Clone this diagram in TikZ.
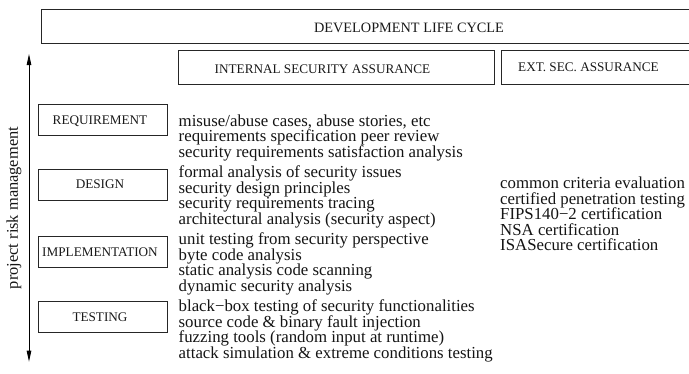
\documentclass[tikz,border=0pt]{standalone}
\usepackage{fontspec}
\setmainfont{Liberation Serif}
\usetikzlibrary{arrows.meta}
\tikzset{
  frame/.style={draw=black!85, line width=0.9pt},
  hdr/.style={inner sep=0pt, font=\fontsize{13.2}{14}\selectfont, text=black!90},
  phase/.style={inner sep=0pt, anchor=base, font=\fontsize{13.2}{14}\selectfont, text=black!90},
  item/.style={inner sep=0pt, anchor=base west, font=\fontsize{16.8}{16}\selectfont, text=black!92},
  biarrow/.style={line width=0.9pt, {Triangle[length=11pt,width=4.5pt]}-{Triangle[length=11pt,width=4.5pt]}}
}
\begin{document}
\begin{tikzpicture}[x=1pt,y=-1pt]
\useasboundingbox (0,0) rectangle (689,373);
\begin{scope}
\clip (0,0) rectangle (689,373);
% top frames
\draw[frame] (41.7,9.3) rectangle (705,43.3);
\node[hdr, anchor=base, font=\fontsize{14.3}{15}\selectfont] (dlc) at (409,32.7) {DEVELOPMENT LIFE CYCLE};
\draw[frame] (178,50) rectangle (494,84);
\node[hdr, anchor=base] (isa) at (322.5,73.4) {INTERNAL SECURITY ASSURANCE};
\draw[frame] (501,50) rectangle (705,84);
\node[hdr, anchor=base west] (esa) at (518,71.4) {EXT. SEC. ASSURANCE};
\end{scope}
% phase boxes
\draw[frame] (38.3,104.3) rectangle (167.3,135);
\node[phase] (req) at (100,124.1) {REQUIREMENT};
\draw[frame] (38.3,169) rectangle (167.3,200);
\node[phase] (des) at (100,188.9) {DESIGN};
\draw[frame] (38.3,236) rectangle (167.3,267.3);
\node[phase] (imp) at (100,256) {IMPLEMENTATION};
\draw[frame] (38.3,301.7) rectangle (167.3,332.3);
\node[phase] (tst) at (100,321.4) {TESTING};
% arrow and label
\coordinate (atop) at (29,54);
\coordinate (abot) at (29,361.7);
\draw[biarrow] (abot) -- (atop);
\node[inner sep=0pt, rotate=90, font=\fontsize{16.4}{17}\selectfont, text=black!92] (prm) at (14,208) {project risk management};
% requirement items
\node[item] (r1) at (178.5,126) {misuse/abuse cases, abuse stories, etc};
\node[item] (r2) at (178.5,141.5) {requirements specification peer review};
\node[item] (r3) at (178.5,157) {security requirements satisfaction analysis};
% design items
\node[item] (d1) at (178.5,177.5) {formal analysis of security issues};
\node[item] (d2) at (178.5,193) {security design principles};
\node[item] (d3) at (178.5,208.5) {security requirements tracing};
\node[item] (d4) at (178.5,224) {architectural analysis (security aspect)};
% implementation items
\node[item] (i1) at (178.5,244.5) {unit testing from security perspective};
\node[item] (i2) at (178.5,260) {byte code analysis};
\node[item] (i3) at (178.5,275.5) {static analysis code scanning};
\node[item] (i4) at (178.5,291) {dynamic security analysis};
% testing items
\node[item] (t1) at (178.5,311.5) {black−box testing of security functionalities};
\node[item] (t2) at (178.5,327) {source code \& binary fault injection};
\node[item] (t3) at (178.5,342.5) {fuzzing tools (random input at runtime)};
\node[item] (t4) at (178.5,358) {attack simulation \& extreme conditions testing};
% external items
\node[item] (e1) at (500,188.5) {common criteria evaluation};
\node[item] (e2) at (500,204) {certified penetration testing};
\node[item] (e3) at (500,219.5) {FIPS140−2 certification};
\node[item] (e4) at (500,235) {NSA certification};
\node[item] (e5) at (500,250.5) {ISASecure certification};
\end{tikzpicture}
\end{document}
